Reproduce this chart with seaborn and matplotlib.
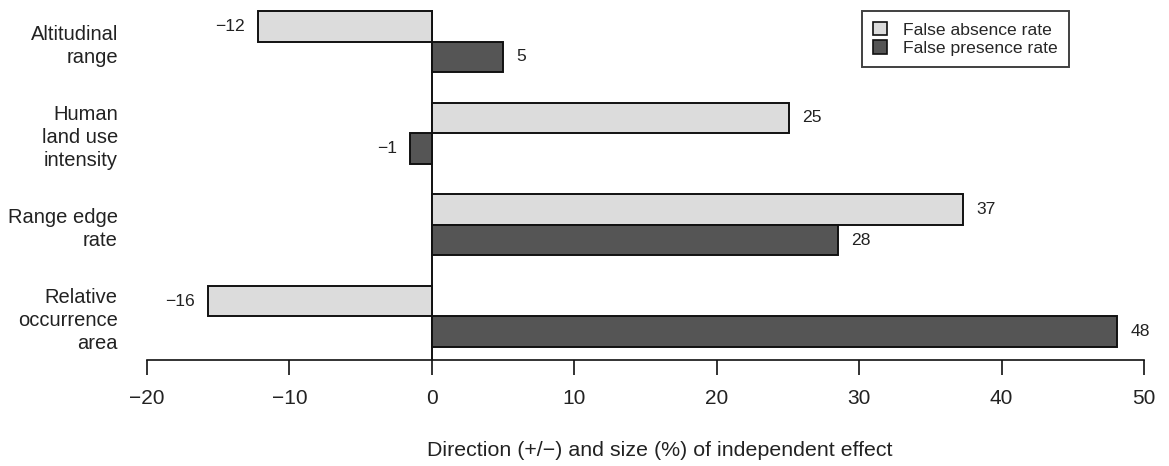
import matplotlib
matplotlib.use("Agg")
import matplotlib.pyplot as plt
import seaborn as sns
import pandas as pd
from matplotlib.patches import Patch

# ---- data ----
categories = ["Altitudinal\nrange", "Human\nland use\nintensity", "Range edge\nrate", "Relative\noccurrence\narea"]
series_names = ["False absence rate", "False presence rate"]
false_absence = [-12.2, 25.1, 37.3, -15.7]
false_presence = [5.0, -1.5, 28.5, 48.1]
absence_labels = ["\u221212", "25", "37", "\u221216"]
presence_labels = ["5", "\u22121", "28", "48"]
x_ticks = [-20, -10, 0, 10, 20, 30, 40, 50]
x_label = "Direction (+/\u2212) and size (%) of independent effect"
colors = ["#dcdcdc", "#555555"]

df = pd.DataFrame({
    "category": categories * 2,
    "series": [series_names[0]] * 4 + [series_names[1]] * 4,
    "value": false_absence + false_presence,
})

sns.set_style("white")
plt.rcParams["font.family"] = ["Liberation Sans", "DejaVu Sans"]

fig = plt.figure(figsize=(11.69, 4.66), dpi=100)
ax = fig.add_axes([147 / 1169, 106 / 466, (1144 - 147) / 1169, 360 / 466])

sns.barplot(data=df, y="category", x="value", hue="series", orient="h",
            order=categories, hue_order=series_names, palette=colors,
            width=2 / 3, edgecolor="#111111", linewidth=1.4, legend=False, ax=ax,
            errorbar=None, saturation=1)

for cont, labs in zip(ax.containers, [absence_labels, presence_labels]):
    ax.bar_label(cont, labels=labs, padding=9.5, fontsize=12.6, color="#222222")

ax.set_xlim(-20, 50)
ax.set_ylim(3.475, -0.453)
top_of_bars = min(p.get_y() for p in ax.patches)
ax.plot([0, 0], [3.475, top_of_bars], color="#111111", lw=1.4, zorder=0.5)

ax.set_xticks(x_ticks)
ax.set_xticklabels([str(t).replace("-", "\u2212") for t in x_ticks], fontsize=15, color="#222222")
ax.tick_params(axis="x", length=11, width=1.2, pad=10, color="#111111", bottom=True)
ax.tick_params(axis="y", length=0, pad=21, labelsize=14.5, labelcolor="#222222")
for lbl in ax.get_yticklabels():
    lbl.set_ha("right")
    lbl.set_multialignment("right")
    lbl.set_linespacing(1.27)

ax.set_xlabel(x_label, fontsize=15.4, labelpad=24, color="#222222")
ax.xaxis.label.set_x(0.5145)
ax.set_ylabel("")

for s in ["left", "top", "right"]:
    ax.spines[s].set_visible(False)
ax.spines["bottom"].set_bounds(-20, 50)
ax.spines["bottom"].set_linewidth(1.2)
ax.spines["bottom"].set_color("#111111")

handles = [Patch(facecolor=c, edgecolor="#111111", linewidth=1.2) for c in colors]
leg = fig.legend(handles, series_names, loc="upper right",
                 bbox_to_anchor=(1069 / 1169, 1 - 11 / 466),
                 bbox_transform=fig.transFigure, fontsize=12.6, frameon=True,
                 fancybox=False, edgecolor="#111111", handlelength=0.8,
                 handleheight=0.8, handletextpad=0.91, borderpad=0.63,
                 labelspacing=0.15, borderaxespad=0)
leg.get_frame().set_linewidth(1.4)

fig.savefig("out.png", dpi=100)
